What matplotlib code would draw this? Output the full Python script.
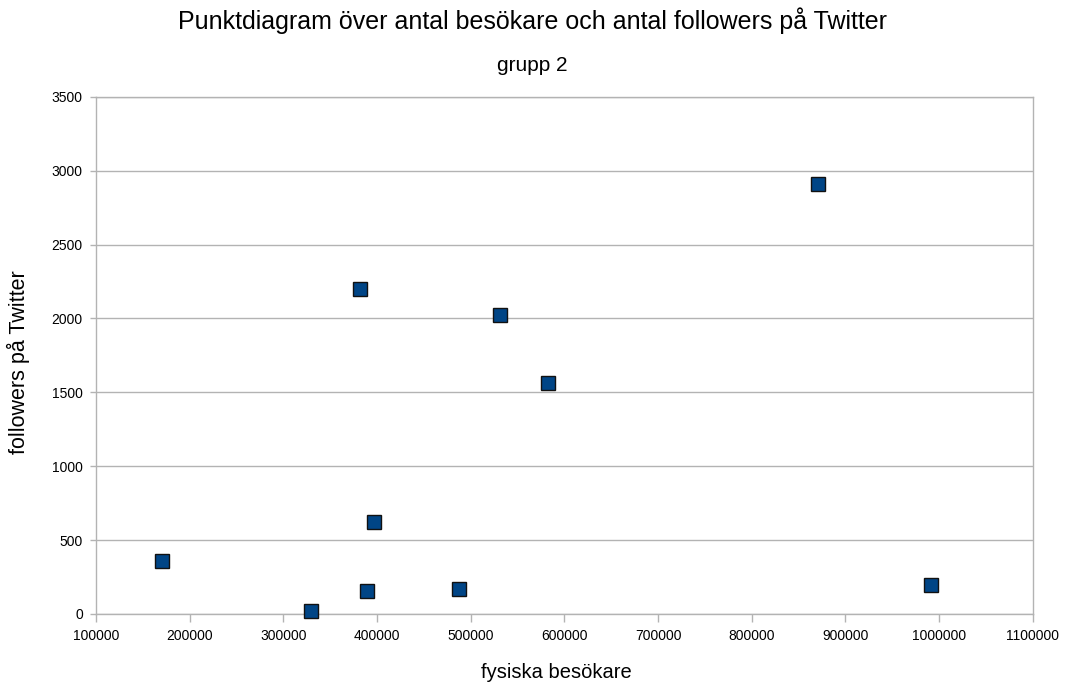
import matplotlib
matplotlib.use("Agg")
import matplotlib.pyplot as plt

plt.rcParams['font.family'] = ['Liberation Sans', 'DejaVu Sans']

# fysiska besökare / followers på Twitter (grupp 2)
besokare = [170000, 330000, 389000, 397000, 488000, 531000, 382000, 583000, 871000, 991000]
followers = [360, 20, 155, 625, 170, 2020, 2200, 1560, 2910, 195]

xticks = list(range(100000, 1100001, 100000))
yticks = list(range(0, 3501, 500))

fig = plt.figure(figsize=(10.65, 6.86), dpi=100)
ax = fig.add_axes([0.0901, 0.105, 0.8796, 0.754])

grey = '#b3b3b3'
ax.set_xlim(100000, 1100000)
ax.set_ylim(0, 3500)
ax.set_xticks(xticks)
ax.set_yticks(yticks)
ax.set_xticklabels([str(t) for t in xticks], fontsize=10)
ax.set_yticklabels([str(t) for t in yticks], fontsize=10)
ax.grid(axis='y', color=grey, linewidth=1)
ax.set_axisbelow(True)
for s in ax.spines.values():
    s.set_color(grey)
    s.set_linewidth(1)
ax.tick_params(axis='x', color=grey, length=6, width=1, pad=5)
ax.tick_params(axis='y', color=grey, length=4.5, width=1, pad=5)

ax.plot(besokare, followers, linestyle='none', marker='s', markersize=9.5,
        markerfacecolor='#004586', markeredgecolor='#111111', markeredgewidth=1,
        zorder=3, clip_on=False)

fig.text(0.5225, 0.019, 'fysiska besökare', ha='center', va='center', fontsize=14.5)
fig.text(0.017, 0.472, 'followers på Twitter', ha='center', va='center',
         rotation=90, fontsize=15.5)

fig.text(0.5, 0.957, 'Punktdiagram över antal besökare och antal followers på Twitter',
         ha='center', va='baseline', fontsize=18)
fig.text(0.5, 0.8965, 'grupp 2', ha='center', va='baseline', fontsize=15)

fig.savefig('out.png', dpi=100)
